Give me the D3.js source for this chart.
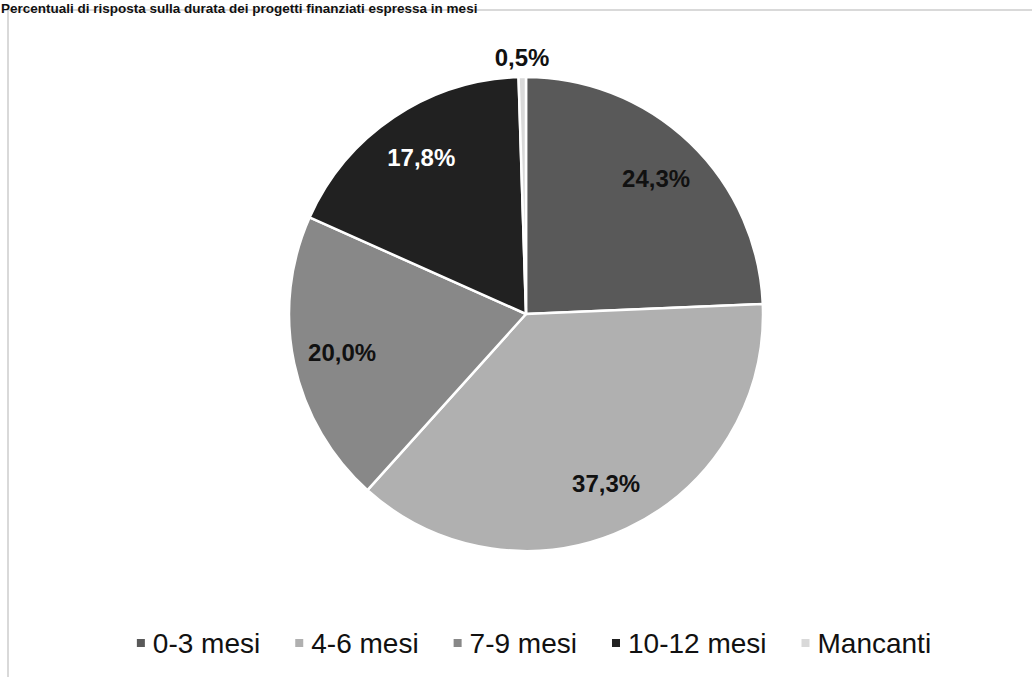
<!DOCTYPE html>
<html><head><meta charset="utf-8">
<script src="https://cdn.jsdelivr.net/npm/d3@7"></script>
<style>
html,body{margin:0;padding:0;background:#fff;}
svg{display:block;font-family:"Liberation Sans",Arial,sans-serif;}
</style></head>
<body>
<svg id="chart" width="1032" height="677"></svg>
<script>
const titleText = "Percentuali di risposta sulla durata dei progetti finanziati espressa in mesi";
const categories = ["0-3 mesi", "4-6 mesi", "7-9 mesi", "10-12 mesi", "Mancanti"];
const values = [24.3, 37.3, 20.0, 17.8, 0.5];
const labels = ["24,3%", "37,3%", "20,0%", "17,8%", "0,5%"];
const colors = ["#595959", "#b0b0b0", "#888888", "#212121", "#d9d9d9"];
const labelColors = ["#111", "#111", "#111", "#fff", "#111"];

const svg = d3.select("#chart");
const W = 1032, H = 677;

// frame
svg.append("rect").attr("x", 8).attr("y", 10).attr("width", W + 20).attr("height", H + 20)
  .attr("fill", "#fff").attr("stroke", "#d9d9d9").attr("stroke-width", 2);

// title
svg.append("text").attr("x", 1).attr("y", 13).attr("font-size", 13.5).attr("font-weight", "bold")
  .attr("fill", "#111").text(titleText);

const cx = 526, cy = 314, r = 237;
const g = svg.append("g").attr("transform", `translate(${cx},${cy})`);
const pie = d3.pie().sort(null).value(d => d)(values);
const arc = d3.arc().innerRadius(0).outerRadius(r);
g.selectAll("path").data(pie).join("path")
  .attr("d", arc).attr("fill", (d, i) => colors[i])
  .attr("stroke", "#fff").attr("stroke-width", 2.5).attr("stroke-linejoin", "round");

g.selectAll("text.lbl").data(pie).join("text").attr("class", "lbl")
  .attr("transform", (d, i) => {
    const a = (d.startAngle + d.endAngle) / 2;
    const rr = values[i] < 2 ? r + 19 : 188;
    return `translate(${Math.sin(a) * rr},${-Math.cos(a) * rr})`;
  })
  .attr("text-anchor", "middle").attr("dy", "0.35em")
  .attr("font-size", 24).attr("font-weight", "bold")
  .attr("fill", (d, i) => labelColors[i])
  .text((d, i) => labels[i]);

// legend
const lg = svg.append("g");
let x = 0;
categories.forEach((c, i) => {
  const it = lg.append("g").attr("transform", `translate(${x},0)`);
  it.append("rect").attr("x", 0).attr("y", -4).attr("width", 8).attr("height", 8).attr("fill", colors[i]);
  const t = it.append("text").attr("x", 16).attr("dy", "0.35em").attr("font-size", 28)
    .attr("fill", "#111").text(c);
  const w = t.node().getComputedTextLength();
  x += 16 + w + 35;
});
const total = x - 35;
lg.attr("transform", `translate(${534 - total / 2},643)`);
</script>
</body></html>
